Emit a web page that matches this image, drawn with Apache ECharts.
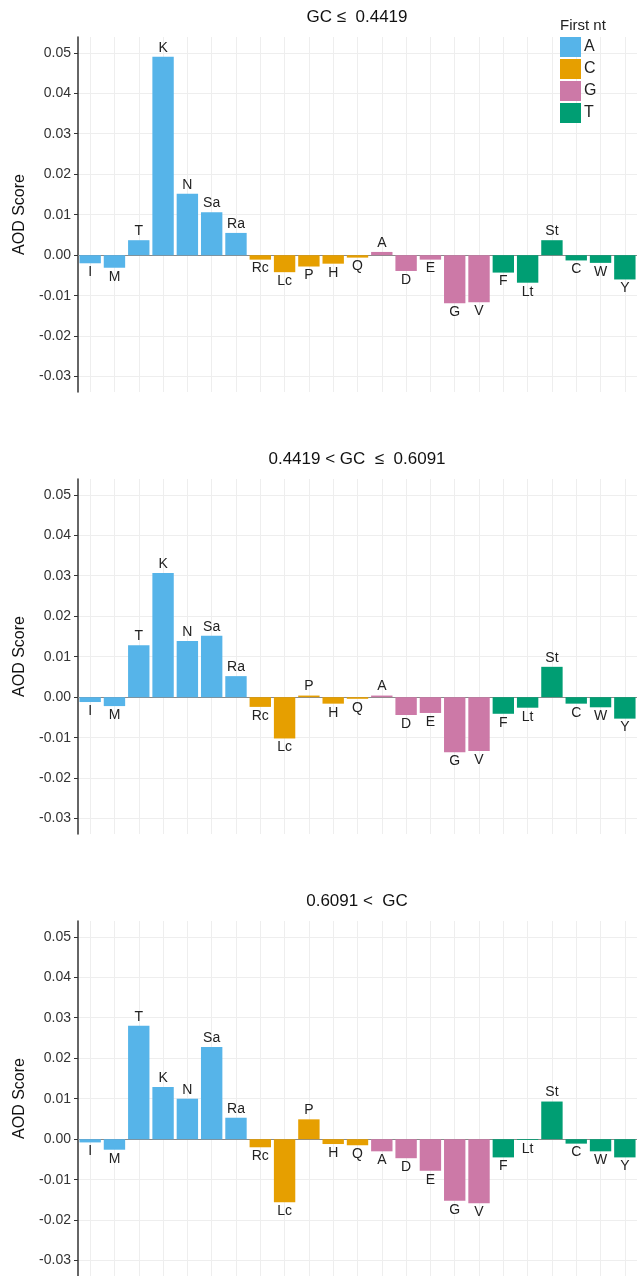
<!DOCTYPE html>
<html>
<head>
<meta charset="utf-8">
<script src="https://cdn.jsdelivr.net/npm/echarts@6/dist/echarts.min.js"></script>
<style>
  html, body { margin: 0; padding: 0; background: #fff; }
  #chart { width: 637px; height: 1276px; }
</style>
</head>
<body>
<div id="chart"></div>
<script>
// amino acid codes along x, grouped by first nucleotide
const categories = ['I', 'M', 'T', 'K', 'N', 'Sa', 'Ra', 'Rc', 'Lc', 'P', 'H', 'Q', 'A', 'D', 'E', 'G', 'V', 'F', 'Lt', 'St', 'C', 'W', 'Y']
const firstNt = ['A', 'A', 'A', 'A', 'A', 'A', 'A', 'C', 'C', 'C', 'C', 'C', 'G', 'G', 'G', 'G', 'G', 'T', 'T', 'T', 'T', 'T', 'T']
const nucleotides = ['A', 'C', 'G', 'T']
const ntColors = ['#56B4E9', '#E69F00', '#CC79A7', '#009E73']

const panelTitles = ['GC \u2264  0.4419', '0.4419 < GC  \u2264  0.6091', '0.6091 <  GC']

const lowGC = [-0.0020, -0.0031, 0.0037, 0.0490, 0.0152, 0.0106, 0.0055, -0.0011, -0.0042, -0.0028, -0.0021, -0.0006,
  0.0008, -0.0039, -0.0011, -0.0119, -0.0116, -0.0043, -0.0068, 0.0037, -0.0013, -0.0019, -0.0060]
const midGC = [-0.0012, -0.0022, 0.0128, 0.0307, 0.0139, 0.0152, 0.0052, -0.0024, -0.0102, 0.0004, -0.0016, -0.0004,
  0.0004, -0.0044, -0.0039, -0.0136, -0.0133, -0.0041, -0.0026, 0.0075, -0.0016, -0.0025, -0.0053]
const highGC = [-0.0008, -0.0026, 0.0280, 0.0129, 0.0100, 0.0228, 0.0053, -0.0020, -0.0156, 0.0049, -0.0012, -0.0015,
  -0.0030, -0.0047, -0.0078, -0.0152, -0.0158, -0.0045, -0.0002, 0.0093, -0.0011, -0.0030, -0.0045]

const yTicks = [-0.03, -0.02, -0.01, 0, 0.01, 0.02, 0.03, 0.04, 0.05]
const yMin = -0.0338
const yMax = 0.0539

const panels = [lowGC, midGC, highGC]
const gridTops = [37, 479, 921]
const titleTops = [9, 451, 893]
const font = 'Liberation Sans, Arial, Helvetica, sans-serif'

const chart = echarts.init(document.getElementById('chart'))

const grids = gridTops.map(top => ({ left: 78, right: -1, top, height: 355 }))

const xAxes = panels.map((_, p) => ({
  type: 'category',
  gridIndex: p,
  data: categories,
  axisLine: { onZero: true, lineStyle: { color: '#8a8a8a', width: 1 } },
  axisTick: { show: false },
  axisLabel: { show: false },
  splitLine: { show: true, alignWithLabel: true, lineStyle: { color: '#eeeeee', width: 1 } }
}))

const yAxes = panels.map((_, p) => ({
  type: 'value',
  gridIndex: p,
  min: yMin,
  max: yMax,
  name: 'AOD Score',
  nameLocation: 'middle',
  nameGap: 50,
  nameTextStyle: { fontSize: 16, color: '#111', fontFamily: font },
  axisLine: { show: true, onZero: false, lineStyle: { color: '#333', width: 1.5 } },
  axisTick: { show: true, length: 4, customValues: yTicks, lineStyle: { color: '#333' } },
  axisLabel: {
    customValues: yTicks,
    margin: 7,
    fontSize: 14,
    color: '#333',
    fontFamily: font,
    formatter: v => v.toFixed(2)
  },
  splitLine: { show: true, lineStyle: { color: '#eeeeee', width: 1 } }
}))

const series = []
panels.forEach((values, p) => {
  nucleotides.forEach((nt, k) => {
    series.push({
      name: nt,
      type: 'bar',
      xAxisIndex: p,
      yAxisIndex: p,
      stack: 'panel' + p,
      barCategoryGap: '12%',
      itemStyle: { color: ntColors[k] },
      label: {
        show: true,
        formatter: '{b}',
        fontSize: 14,
        color: '#222',
        fontFamily: font,
        distance: 2
      },
      data: values.map((v, i) => firstNt[i] === nt
        ? { value: v, label: { position: v >= 0 ? 'top' : 'bottom' } }
        : '-')
    })
  })
})

const titles = panels.map((_, p) => ({
  text: panelTitles[p],
  left: 357,
  top: titleTops[p],
  textAlign: 'center',
  padding: 0,
  textStyle: { fontSize: 17, fontWeight: 'normal', color: '#111', fontFamily: font }
}))
titles.push({
  text: 'First nt',
  left: 560,
  top: 18,
  padding: 0,
  textStyle: { fontSize: 15, fontWeight: 'normal', color: '#222', fontFamily: font }
})

chart.setOption({
  backgroundColor: '#fff',
  animation: false,
  title: titles,
  legend: {
    data: nucleotides,
    orient: 'vertical',
    left: 560,
    top: 37,
    padding: 0,
    icon: 'rect',
    itemWidth: 21,
    itemHeight: 20,
    itemGap: 2,
    textStyle: { fontSize: 16, color: '#222', fontFamily: font, padding: [0, 0, 0, -2] },
    selectedMode: false
  },
  grid: grids,
  xAxis: xAxes,
  yAxis: yAxes,
  series
})
</script>
</body>
</html>
